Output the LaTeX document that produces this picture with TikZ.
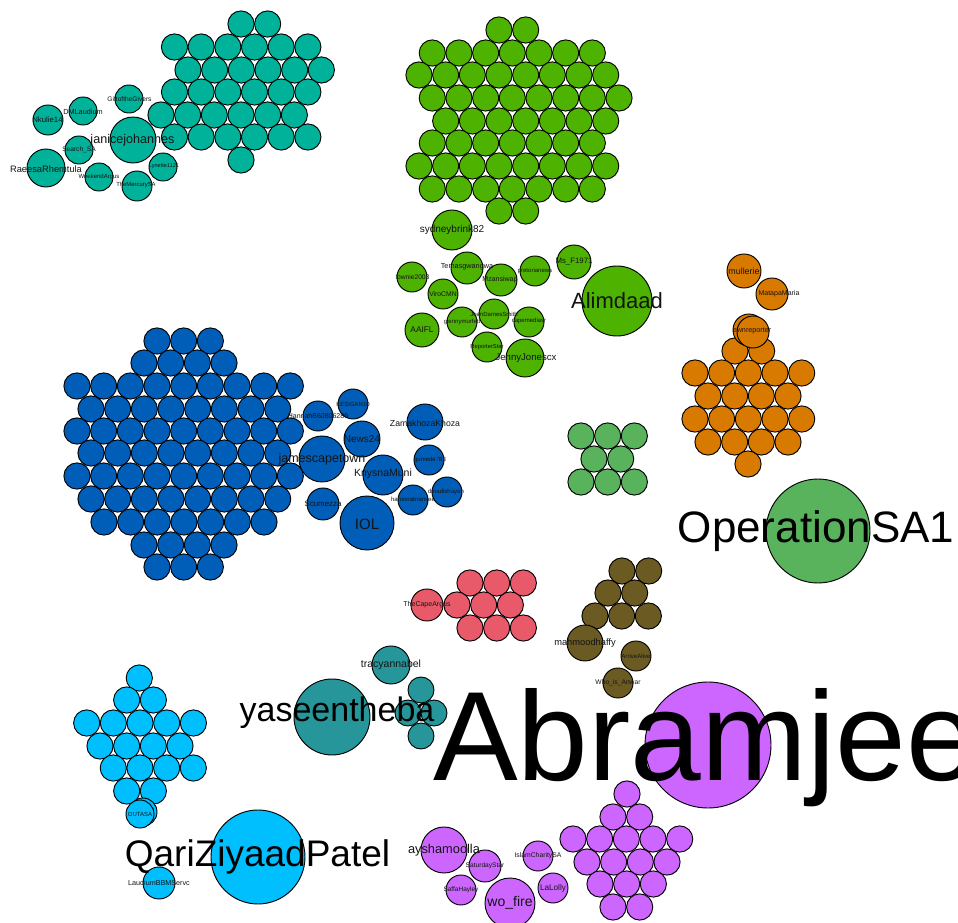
\documentclass[tikz,border=0pt]{standalone}
\usepackage{fontspec}
\setmainfont{Liberation Sans}
\definecolor{tealc}{RGB}{0,178,154}
\definecolor{greenc}{RGB}{77,178,0}
\definecolor{orangec}{RGB}{217,122,0}
\definecolor{bluec}{RGB}{0,94,184}
\definecolor{lgreenc}{RGB}{89,178,92}
\definecolor{pinkc}{RGB}{232,90,106}
\definecolor{brownc}{RGB}{108,90,35}
\definecolor{dtealc}{RGB}{38,150,154}
\definecolor{cyanc}{RGB}{0,191,255}
\definecolor{purplec}{RGB}{204,102,255}
\definecolor{labc}{RGB}{20,20,20}
\newcommand\pxfont[1]{\pgfmathsetmacro\pxfs{#1*0.75}\fontsize{\pxfs pt}{\pxfs pt}\selectfont}
\newcommand\hexrow[5]{%
  \foreach \i in {1,...,#4} {\node[bub={#1}{13.1}] (#5-\i) at ({#3+(\i-1)*26.67},#2) {};}}
\begin{document}
\begin{tikzpicture}[x=0.75pt,y=-0.75pt,
  bub/.style 2 args={circle,draw=black,line width=0.7pt,fill=#1,minimum size=#2*1.5pt,inner sep=0pt},
  lab/.style={font=\pxfont{#1},inner sep=0pt,text=labc},
  biglab/.style={font=\pxfont{#1},inner sep=0pt,text=black,anchor=base}]
\useasboundingbox (0,0) rectangle (958,923);
\fill[white] (0,0) rectangle (958,923);
\clip (0,0) rectangle (958,923);

% ---------- teal cluster ----------
\hexrow{tealc}{24}{241}{2}{ta}
\hexrow{tealc}{47}{174.5}{6}{tb}
\hexrow{tealc}{70}{188}{6}{tc}
\hexrow{tealc}{92}{174.5}{6}{td}
\hexrow{tealc}{115}{161}{6}{te}
\hexrow{tealc}{137}{174.5}{6}{tf}
\hexrow{tealc}{160}{241}{1}{tg}
\node[bub={tealc}{14}] (GiftoftheGivers) at (129,99) {};
\node[bub={tealc}{14}] (DMLaudium) at (83,111) {};
\node[bub={tealc}{15}] (Nkulie14) at (48,120) {};
\node[bub={tealc}{23}] (janicejohannes) at (133,140) {};
\node[bub={tealc}{14}] (SearchSA) at (79,150) {};
\node[bub={tealc}{19}] (RaeesaRhemtula) at (46,168) {};
\node[bub={tealc}{14}] (WeekendArgus) at (99,177) {};
\node[bub={tealc}{15}] (TheMercurySA) at (137,186) {};
\node[bub={tealc}{14}] (Lynette1121) at (163,167) {};

% ---------- green cluster ----------
\hexrow{greenc}{30}{499}{2}{ga}
\hexrow{greenc}{53}{432.3}{7}{gb}
\hexrow{greenc}{75}{419}{8}{gc}
\hexrow{greenc}{98}{432.3}{8}{gd}
\hexrow{greenc}{121}{445.7}{7}{ge}
\hexrow{greenc}{143}{432.3}{7}{gf}
\hexrow{greenc}{166}{419}{8}{gg}
\hexrow{greenc}{189}{432.3}{7}{gh}
\hexrow{greenc}{211}{499}{2}{gi}
\node[bub={greenc}{20}] (sydneybrink82) at (452,230) {};
\node[bub={greenc}{16}] (Temasgwangwa) at (467,268) {};
\node[bub={greenc}{15}] (lownie2003) at (412,277) {};
\node[bub={greenc}{16}] (Mzansiwap) at (501,280) {};
\node[bub={greenc}{15}] (pretorianews) at (535,271) {};
\node[bub={greenc}{17}] (MsF1971) at (574,262) {};
\node[bub={greenc}{35}] (Alimdaad) at (617,301) {};
\node[bub={greenc}{15}] (ViroCMN) at (443,294) {};
\node[bub={greenc}{17}] (AAIFL) at (422,330) {};
\node[bub={greenc}{15}] (glennymurfett) at (462,322) {};
\node[bub={greenc}{15}] (JoanDamesSmith) at (494,314) {};
\node[bub={greenc}{15}] (capemediasr) at (529,322) {};
\node[bub={greenc}{15}] (ReporterStar) at (487,347) {};
\node[bub={greenc}{19}] (JennyJonescx) at (525,358) {};

% ---------- orange cluster ----------
\hexrow{orangec}{351}{735}{2}{oa}
\hexrow{orangec}{373}{695}{5}{ob}
\hexrow{orangec}{396}{708}{4}{oc}
\hexrow{orangec}{419}{695}{5}{od}
\hexrow{orangec}{442}{708}{4}{oe}
\hexrow{orangec}{464}{748}{1}{of}
\node[bub={orangec}{17}] (mullerie) at (744,271) {};
\node[bub={orangec}{16}] (MatapaMaria) at (772,294) {};
\node[bub={orangec}{16}] (ewnback) at (749,330) {};
\node[bub={orangec}{16}] (ewnreporter) at (753,332) {};

% ---------- blue cluster ----------
\hexrow{bluec}{341}{157}{3}{ba}
\hexrow{bluec}{363}{144}{4}{bb}
\hexrow{bluec}{386}{77}{9}{bc}
\hexrow{bluec}{409}{91}{8}{bd}
\hexrow{bluec}{431}{77}{9}{be}
\hexrow{bluec}{453}{91}{8}{bf}
\hexrow{bluec}{476}{77}{9}{bg}
\hexrow{bluec}{499}{91}{8}{bh}
\hexrow{bluec}{522}{104}{7}{bi}
\hexrow{bluec}{545}{144}{4}{bj}
\hexrow{bluec}{567}{157}{3}{bk}
\node[bub={bluec}{15}] (KESIGAN10) at (353,404) {};
\node[bub={bluec}{15}] (HannahB) at (318,416) {};
\node[bub={bluec}{18}] (ZamakhozaKhoza) at (425,422) {};
\node[bub={bluec}{18}] (News24) at (362,439) {};
\node[bub={bluec}{23}] (jamescapetown) at (322,459) {};
\node[bub={bluec}{15}] (gumede783) at (429,460) {};
\node[bub={bluec}{20}] (KnysnaMuni) at (383,475) {};
\node[bub={bluec}{15}] (dmadishayah) at (447,492) {};
\node[bub={bluec}{15}] (haroonabramjee) at (413,500) {};
\node[bub={bluec}{16}] (Scumezza) at (323,504) {};
\node[bub={bluec}{27}] (IOL) at (367,523) {};

% ---------- light green ----------
\hexrow{lgreenc}{436}{581}{3}{la}
\hexrow{lgreenc}{459}{594}{2}{lb}
\hexrow{lgreenc}{482}{581}{3}{lc}
\node[bub={lgreenc}{52}] (OperationSA1) at (818,531) {};

% ---------- pink ----------
\hexrow{pinkc}{583}{470}{3}{pa}
\hexrow{pinkc}{605}{457}{3}{pb}
\hexrow{pinkc}{628}{470}{3}{pc}
\node[bub={pinkc}{16}] (TheCapeArgus) at (427,605) {};

% ---------- brown ----------
\hexrow{brownc}{571}{622}{2}{ra}
\hexrow{brownc}{593}{608}{2}{rb}
\hexrow{brownc}{616}{595}{3}{rc}
\node[bub={brownc}{18}] (mahmoodhaffy) at (585,643) {};
\node[bub={brownc}{15}] (ArriveAlive) at (636,656) {};
\node[bub={brownc}{15}] (WhoisAnwar) at (618,683) {};

% ---------- dark teal ----------
\node[bub={dtealc}{19}] (tracyannabel) at (391,665) {};
\node[bub={dtealc}{13}] (dt1) at (421,690) {};
\node[bub={dtealc}{13}] (dt2) at (408,713) {};
\node[bub={dtealc}{13}] (dt3) at (434,713) {};
\node[bub={dtealc}{13}] (dt4) at (421,736) {};
\node[bub={dtealc}{38}] (yaseentheba) at (332,717) {};

% ---------- cyan ----------
\hexrow{cyanc}{678}{139.3}{1}{ca}
\hexrow{cyanc}{700}{126.7}{2}{cb}
\hexrow{cyanc}{723}{86.7}{5}{cc}
\hexrow{cyanc}{746}{100}{4}{cd}
\hexrow{cyanc}{768}{113.3}{4}{ce}
\hexrow{cyanc}{791}{126.7}{2}{cf}
\node[bub={cyanc}{14}] (OUTASAback) at (143,812) {};
\node[bub={cyanc}{14}] (OUTASA) at (140,814) {};
\node[bub={cyanc}{47}] (QariZiyaadPatel) at (258,857) {};
\node[bub={cyanc}{16}] (LaudiumBBMServc) at (159,883) {};

% ---------- purple ----------
\hexrow{purplec}{794}{627}{1}{ua}
\hexrow{purplec}{817}{613}{2}{ub}
\hexrow{purplec}{839}{573}{5}{uc}
\hexrow{purplec}{862}{587}{4}{ud}
\hexrow{purplec}{884}{600}{3}{ue}
\hexrow{purplec}{907}{613}{2}{uf}
\node[bub={purplec}{23}] (ayshamoolla) at (444,850) {};
\node[bub={purplec}{16}] (SaturdayStar) at (485,866) {};
\node[bub={purplec}{15}] (SaffaHayley) at (461,890) {};
\node[bub={purplec}{25}] (wofire) at (510,903) {};
\node[bub={purplec}{15}] (IslamCharitySA) at (538,856) {};
\node[bub={purplec}{15}] (LaLolly) at (553,888) {};
\node[bub={purplec}{63}] (Abramjee) at (708,745) {};

% ================= labels =================
\node[lab=6.6] at (129.5,99) {GiftoftheGivers};
\node[lab=7.3] at (83,112) {DMLaudium};
\node[lab=7.8] at (47.5,120) {Nkulie14};
\node[lab=12.6] at (132.5,140) {janicejohannes};
\node[lab=6.6] at (79,150) {Search\_SA};
\node[lab=9.3] at (46,169) {RaeesaRhemtula};
\node[lab=6] at (99,177) {WeekendArgus};
\node[lab=5.9] at (136,185) {TheMercurySA};
\node[lab=5.6] at (164,166) {Lynette1121};

\node[lab=10] at (452,230) {sydneybrink82};
\node[lab=7.3] at (467,267) {Temasgwangwa};
\node[lab=6.7] at (412.5,277) {lownie2003};
\node[lab=7] at (500,280) {Mzansiwap};
\node[lab=6] at (535,271) {pretorianews};
\node[lab=7.8] at (574,262) {Ms\_F1971};
\node[lab=6.8] at (443,294) {ViroCMN};
\node[lab=8.3] at (422,330) {AAIFL};
\node[lab=6] at (462,322) {glennymurfett};
\node[lab=6] at (494,314) {JoanDamesSmith};
\node[lab=6] at (529,321) {capemediasr};
\node[lab=5.8] at (487,347) {ReporterStar};
\node[lab=9.6] at (526,358) {JennyJonescx};
\node[lab=22] at (617,301) {Alimdaad};

\node[lab=8.9] at (744,271) {mullerie};
\node[lab=7] at (779,294) {MatapaMaria};
\node[lab=7.2] at (752,331) {ewnreporter};

\node[lab=6] at (353,404) {KESIGAN10};
\node[lab=7] at (318,416) {HannahB60806289};
\node[lab=8.7] at (425,423) {ZamakhozaKhoza};
\node[lab=10] at (362,439) {News24};
\node[lab=12.5] at (322,459) {jamescapetown};
\node[lab=6] at (430,460) {gumede783};
\node[lab=10.5] at (383,474) {KnysnaMuni};
\node[lab=6] at (446,492) {dmadishayah};
\node[lab=6] at (413,500) {haroonabramjee};
\node[lab=7.9] at (323,504) {Scumezza};
\node[lab=15] at (367,524) {IOL};

\node[lab=7] at (427,605) {TheCapeArgus};
\node[lab=9.3] at (585,643) {mahmoodhaffy};
\node[lab=6.1] at (636,656) {ArriveAlive};
\node[lab=6.7] at (618,683) {Who\_is\_Anwar};

\node[lab=10.5] at (391,665) {tracyannabel};
\node[biglab=34] at (337,722) {yaseentheba};

\node[lab=6] at (140,814) {OUTASA};
\node[lab=7.2] at (159,883) {LaudiumBBMServc};
\node[biglab=37] at (257.5,866) {QariZiyaadPatel};

\node[lab=12.8] at (444,850) {ayshamoolla};
\node[lab=6.6] at (485,866) {SaturdayStar};
\node[lab=6.5] at (461,890) {SaffaHayley};
\node[lab=14] at (510,903) {wo\_fire};
\node[lab=6.8] at (538,856) {IslamCharitySA};
\node[lab=8.2] at (553,888) {LaLolly};

\node[biglab=44] at (816,543) {OperationSA1};
\node[biglab=127] at (705,780) {Abramjee};
\end{tikzpicture}
\end{document}
